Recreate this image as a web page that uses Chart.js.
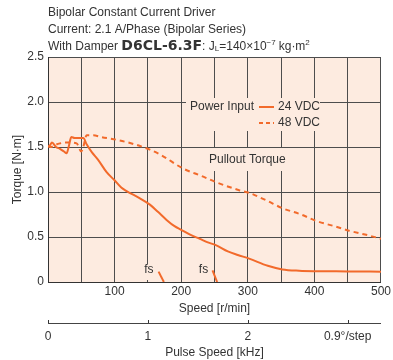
<!DOCTYPE html>
<html>
<head>
<meta charset="utf-8">
<script src="https://cdn.jsdelivr.net/npm/chart.js@4"></script>
<style>
  html, body { margin: 0; padding: 0; background: #fff; }
  #wrap { width: 393px; height: 360px; }
</style>
</head>
<body>
<div id="wrap"><canvas id="chart" width="393" height="360"></canvas></div>
<script>
// 24 VDC pullout torque (solid)
const speed24 = [0, 3, 6, 12, 18, 24, 28, 31, 35, 40, 53, 58, 66, 75, 88, 100, 110, 118, 138, 153, 165, 178, 190, 200, 215, 228, 240, 252, 270, 285, 302, 330, 352, 377, 400, 450, 500];
const torque24 = [1.5, 1.52, 1.55, 1.5, 1.48, 1.45, 1.43, 1.5, 1.61, 1.6, 1.6, 1.53, 1.44, 1.36, 1.22, 1.13, 1.05, 1.01, 0.93, 0.86, 0.78, 0.69, 0.62, 0.58, 0.52, 0.48, 0.44, 0.41, 0.34, 0.3, 0.26, 0.18, 0.14, 0.125, 0.12, 0.118, 0.115];

// 48 VDC pullout torque (dashed)
const speed48 = [0, 5, 10, 18, 25, 32, 43, 50, 53, 58, 68, 80, 103, 130, 153, 170, 203, 230, 252, 287, 302, 327, 352, 380, 402, 430, 452, 480, 500];
const torque48 = [1.51, 1.5, 1.52, 1.54, 1.55, 1.55, 1.54, 1.45, 1.5, 1.63, 1.63, 1.61, 1.58, 1.53, 1.47, 1.41, 1.26, 1.18, 1.11, 1.02, 0.99, 0.91, 0.82, 0.75, 0.68, 0.62, 0.57, 0.52, 0.48];

// starting frequency marks (fs)
const fs24Speed = [166, 174];
const fs24Torque = [0.115, 0];
const fs48Speed = [247, 254];
const fs48Torque = [0.13, 0];

const pulseTicks = [0, 1, 2, 3];
const pulseLabels = ['0', '1', '2', '0.9°/step'];

const ORANGE = '#f26a2b';
const BG = '#fdebe0';
const GRID = '#4d4d4d';
const TEXT = '#333';
const FONT = '"Liberation Sans", Arial, sans-serif';

function pts(xs, ys) {
    return xs.map((x, i) => ({ x: x, y: ys[i] }));
}

// peach plot background + boxed labels
const areaPlugin = {
    id: 'area',
    beforeDraw(chart) {
        const a = chart.chartArea;
        const ctx = chart.ctx;
        ctx.save();
        ctx.fillStyle = BG;
        ctx.fillRect(a.left, a.top, a.right - a.left, a.bottom - a.top);
        ctx.restore();
    },
    beforeDatasetsDraw(chart) {
        const ctx = chart.ctx;
        const x = chart.scales.x, y = chart.scales.y;
        ctx.save();
        ctx.fillStyle = BG;
        // legend box
        ctx.fillRect(186, 98, 134, 33);
        // pullout torque box
        ctx.fillRect(206, 148, 86, 23);
        // fs boxes
        ctx.fillRect(x.getPixelForValue(143), y.getPixelForValue(0.2), 14, 16);
        ctx.fillRect(x.getPixelForValue(224), y.getPixelForValue(0.2), 14, 16);

        ctx.fillStyle = TEXT;
        ctx.font = '12px ' + FONT;
        ctx.textBaseline = 'middle';
        ctx.textAlign = 'left';
        ctx.fillText('Power Input', 190, 107);
        ctx.fillText('24 VDC', 278, 107);
        ctx.fillText('48 VDC', 278, 123);
        ctx.fillText('Pullout Torque', 209, 160);
        ctx.fillText('fs', x.getPixelForValue(143) + 1, 270);
        ctx.fillText('fs', x.getPixelForValue(225) + 1, 270);

        ctx.strokeStyle = ORANGE;
        ctx.lineWidth = 2;
        ctx.beginPath();
        ctx.moveTo(259, 107);
        ctx.lineTo(274, 107);
        ctx.stroke();
        ctx.setLineDash([4, 3]);
        ctx.beginPath();
        ctx.moveTo(259, 123);
        ctx.lineTo(274, 123);
        ctx.stroke();
        ctx.restore();
    },
    afterDraw(chart) {
        const ctx = chart.ctx;
        ctx.save();
        ctx.fillStyle = TEXT;
        ctx.textBaseline = 'alphabetic';
        ctx.textAlign = 'left';
        ctx.font = '12px ' + FONT;
        ctx.fillText('Bipolar Constant Current Driver', 48, 16);
        ctx.fillText('Current: 2.1 A/Phase (Bipolar Series)', 48, 33);

        // third line with mixed styles
        let cx = 48;
        const by = 50;
        const put = (t, font, dy) => {
            ctx.font = font;
            ctx.fillText(t, cx, by + (dy || 0));
            cx += ctx.measureText(t).width;
        };
        put('With Damper ', '12px ' + FONT);
        put('D6CL-6.3F', 'bold 14px "DejaVu Sans", sans-serif');
        put(': J', '12px ' + FONT);
        put('L', '8px ' + FONT, 1);
        put('=140×10', '12px ' + FONT);
        put('−7', '8px ' + FONT, -5);
        cx += 3;
        put('kg·m', '12px ' + FONT);
        put('2', '8px ' + FONT, -5);

        // small upward ticks on the pulse speed axis
        const p = chart.scales.x2;
        ctx.strokeStyle = TEXT;
        ctx.lineWidth = 1;
        pulseTicks.forEach(v => {
            const px = Math.round(p.getPixelForValue(v)) + 0.5;
            ctx.beginPath();
            ctx.moveTo(px, p.top);
            ctx.lineTo(px, p.top - 3);
            ctx.stroke();
        });
        ctx.restore();
    }
};

new Chart(document.getElementById('chart'), {
    type: 'line',
    data: {
        datasets: [
            {
                label: '24 VDC',
                data: pts(speed24, torque24),
                borderColor: ORANGE,
                borderWidth: 2,
                pointRadius: 0,
                cubicInterpolationMode: 'monotone'
            },
            {
                label: '48 VDC',
                data: pts(speed48, torque48),
                borderColor: ORANGE,
                borderWidth: 2,
                borderDash: [5, 4],
                pointRadius: 0,
                cubicInterpolationMode: 'monotone'
            },
            {
                label: 'fs 24',
                data: pts(fs24Speed, fs24Torque),
                borderColor: ORANGE,
                borderWidth: 2,
                pointRadius: 0
            },
            {
                label: 'fs 48',
                data: pts(fs48Speed, fs48Torque),
                borderColor: ORANGE,
                borderWidth: 2,
                pointRadius: 0
            }
        ]
    },
    options: {
        responsive: false,
        animation: false,
        layout: { autoPadding: false, padding: { top: 57, right: 11, left: 0, bottom: 0 } },
        plugins: {
            legend: { display: false },
            tooltip: { enabled: false }
        },
        scales: {
            x: {
                type: 'linear',
                position: 'bottom',
                min: 0,
                max: 500,
                afterFit: s => { s.height = 41; },
                grid: { color: GRID, lineWidth: 1, drawTicks: false },
                border: { color: '#333', width: 1 },
                ticks: {
                    stepSize: 50,
                    padding: 2,
                    autoSkip: false,
                    maxRotation: 0,
                    color: TEXT,
                    font: { family: FONT, size: 12 },
                    callback: v => (v > 0 && v % 100 === 0) ? String(v) : ''
                },
                title: {
                    display: true,
                    text: 'Speed [r/min]',
                    color: TEXT,
                    font: { family: FONT, size: 12 },
                    padding: { top: 0, bottom: 7 }
                }
            },
            x2: {
                type: 'linear',
                position: 'bottom',
                min: 0,
                max: 500 / 150,
                afterFit: s => { s.height = 37; },
                grid: { drawOnChartArea: false, drawTicks: false },
                border: { color: '#444', width: 1 },
                afterBuildTicks: s => { s.ticks = pulseTicks.map(v => ({ value: v })); },
                ticks: {
                    padding: 6,
                    autoSkip: false,
                    maxRotation: 0,
                    color: TEXT,
                    font: { family: FONT, size: 12 },
                    callback: v => pulseLabels[pulseTicks.indexOf(v)]
                },
                title: {
                    display: true,
                    text: 'Pulse Speed [kHz]',
                    color: TEXT,
                    font: { family: FONT, size: 12 },
                    padding: { top: 0, bottom: 0 }
                }
            },
            y: {
                min: 0,
                max: 2.5,
                afterFit: s => { s.width = 48; },
                grid: { color: GRID, lineWidth: 1, drawTicks: false },
                border: { color: '#333', width: 1 },
                ticks: {
                    stepSize: 0.5,
                    padding: 4,
                    color: TEXT,
                    font: { family: FONT, size: 12 },
                    callback: v => v === 0 ? '0' : v.toFixed(1)
                },
                title: {
                    display: true,
                    text: 'Torque [N·m]',
                    color: TEXT,
                    font: { family: FONT, size: 12 },
                    padding: { top: 10, bottom: 0 }
                }
            }
        }
    },
    plugins: [areaPlugin]
});
</script>
</body>
</html>
